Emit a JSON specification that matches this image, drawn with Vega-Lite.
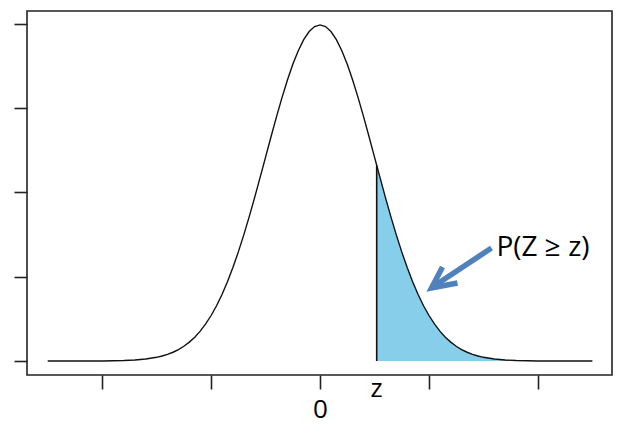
{
  "$schema": "https://vega.github.io/schema/vega-lite/v6.json",
  "width": 585,
  "height": 364,
  "autosize": {"type": "none"},
  "padding": {"left": 27, "top": 11, "right": 14, "bottom": 72},
  "background": "white",
  "config": {
    "view": {"stroke": "#222222", "strokeWidth": 1.6},
    "font": "Open Sans"
  },
  "datasets": {
    "curve": [
      {"x": -5.0, "d": 0.0}, {"x": -4.5, "d": 0.0}, {"x": -4.0, "d": 0.0001},
      {"x": -3.8, "d": 0.0003}, {"x": -3.6, "d": 0.0006}, {"x": -3.4, "d": 0.0012},
      {"x": -3.2, "d": 0.0024}, {"x": -3.0, "d": 0.0044}, {"x": -2.9, "d": 0.006},
      {"x": -2.8, "d": 0.0079}, {"x": -2.7, "d": 0.0104}, {"x": -2.6, "d": 0.0136},
      {"x": -2.5, "d": 0.0175}, {"x": -2.4, "d": 0.0224}, {"x": -2.3, "d": 0.0283},
      {"x": -2.2, "d": 0.0355}, {"x": -2.1, "d": 0.044}, {"x": -2.0, "d": 0.054},
      {"x": -1.9, "d": 0.0656}, {"x": -1.8, "d": 0.079}, {"x": -1.7, "d": 0.094},
      {"x": -1.6, "d": 0.1109}, {"x": -1.5, "d": 0.1295}, {"x": -1.4, "d": 0.1497},
      {"x": -1.3, "d": 0.1714}, {"x": -1.2, "d": 0.1942}, {"x": -1.1, "d": 0.2179},
      {"x": -1.0, "d": 0.242}, {"x": -0.9, "d": 0.2661}, {"x": -0.8, "d": 0.2897},
      {"x": -0.7, "d": 0.3123}, {"x": -0.6, "d": 0.3332}, {"x": -0.5, "d": 0.3521},
      {"x": -0.4, "d": 0.3683}, {"x": -0.3, "d": 0.3814}, {"x": -0.2, "d": 0.391},
      {"x": -0.1, "d": 0.397}, {"x": 0.0, "d": 0.3989}, {"x": 0.1, "d": 0.397},
      {"x": 0.2, "d": 0.391}, {"x": 0.3, "d": 0.3814}, {"x": 0.4, "d": 0.3683},
      {"x": 0.5, "d": 0.3521}, {"x": 0.6, "d": 0.3332}, {"x": 0.7, "d": 0.3123},
      {"x": 0.8, "d": 0.2897}, {"x": 0.9, "d": 0.2661}, {"x": 1.0, "d": 0.242},
      {"x": 1.04, "d": 0.2323}, {"x": 1.1, "d": 0.2179}, {"x": 1.2, "d": 0.1942},
      {"x": 1.3, "d": 0.1714}, {"x": 1.4, "d": 0.1497}, {"x": 1.5, "d": 0.1295},
      {"x": 1.6, "d": 0.1109}, {"x": 1.7, "d": 0.094}, {"x": 1.8, "d": 0.079},
      {"x": 1.9, "d": 0.0656}, {"x": 2.0, "d": 0.054}, {"x": 2.1, "d": 0.044},
      {"x": 2.2, "d": 0.0355}, {"x": 2.3, "d": 0.0283}, {"x": 2.4, "d": 0.0224},
      {"x": 2.5, "d": 0.0175}, {"x": 2.6, "d": 0.0136}, {"x": 2.7, "d": 0.0104},
      {"x": 2.8, "d": 0.0079}, {"x": 2.9, "d": 0.006}, {"x": 3.0, "d": 0.0044},
      {"x": 3.2, "d": 0.0024}, {"x": 3.4, "d": 0.0012}, {"x": 3.6, "d": 0.0006},
      {"x": 3.8, "d": 0.0003}, {"x": 4.0, "d": 0.0001}, {"x": 4.5, "d": 0.0},
      {"x": 5.0, "d": 0.0}
    ],
    "zline": [{"x": 1.04, "y0": 0, "y1": 0.2323}],
    "arrow": [
      {"part": "shaft", "seq": 1, "x": 3.147, "y": 0.1341},
      {"part": "shaft", "seq": 2, "x": 2.08, "y": 0.0885},
      {"part": "head", "seq": 1, "x": 2.248, "y": 0.1116},
      {"part": "head", "seq": 2, "x": 2.046, "y": 0.0866},
      {"part": "head", "seq": 3, "x": 2.523, "y": 0.0926}
    ],
    "plabel": [{"x": 3.239, "y": 0.1246, "label": "P(Z ≥ z)"}],
    "zlabel": [{"x": 1.04, "y": -0.0427, "label": "z"}]
  },
  "layer": [
    {
      "data": {"name": "curve"},
      "transform": [{"filter": "datum.x >= 1.04"}],
      "mark": {"type": "area", "color": "#87CEEB", "opacity": 1, "clip": true},
      "encoding": {
        "x": {"field": "x", "type": "quantitative",
          "scale": {"domain": [-5.38, 5.36], "nice": false, "zero": false},
          "axis": {
            "values": [-4, -2, 0, 2, 4],
            "labelExpr": "datum.value == 0 ? '0' : ''",
            "title": null, "grid": false, "domain": false,
            "tickSize": 14, "tickWidth": 1.6, "tickColor": "#222222",
            "labelFontSize": 26, "labelFont": "Open Sans", "labelColor": "#000000",
            "labelBaseline": "alphabetic", "labelPadding": 28, "labelFlush": false
          }
        },
        "y": {"field": "d", "type": "quantitative",
          "scale": {"domain": [-0.0166, 0.4154], "nice": false, "zero": false},
          "axis": {
            "values": [0, 0.1, 0.2, 0.3, 0.4],
            "labels": false, "title": null, "grid": false, "domain": false,
            "tickSize": 13, "tickWidth": 1.6, "tickColor": "#222222"
          }
        }
      }
    },
    {
      "data": {"name": "curve"},
      "mark": {"type": "line", "color": "#111111", "strokeWidth": 1.4},
      "encoding": {
        "x": {"field": "x", "type": "quantitative"},
        "y": {"field": "d", "type": "quantitative"}
      }
    },
    {
      "data": {"name": "zline"},
      "mark": {"type": "rule", "color": "#111111", "strokeWidth": 1.6},
      "encoding": {
        "x": {"field": "x", "type": "quantitative"},
        "y": {"field": "y0", "type": "quantitative"},
        "y2": {"field": "y1"}
      }
    },
    {
      "data": {"name": "arrow"},
      "mark": {"type": "line", "color": "#4F81BD", "strokeWidth": 5.5, "strokeJoin": "miter", "strokeCap": "butt"},
      "encoding": {
        "x": {"field": "x", "type": "quantitative"},
        "y": {"field": "y", "type": "quantitative"},
        "detail": {"field": "part"},
        "order": {"field": "seq", "type": "quantitative"}
      }
    },
    {
      "data": {"name": "plabel"},
      "mark": {"type": "text", "font": "Open Sans", "fontSize": 28, "color": "#000000", "baseline": "alphabetic", "align": "left"},
      "encoding": {
        "x": {"field": "x", "type": "quantitative"},
        "y": {"field": "y", "type": "quantitative"},
        "text": {"field": "label"}
      }
    },
    {
      "data": {"name": "zlabel"},
      "mark": {"type": "text", "font": "Open Sans", "fontSize": 26, "color": "#000000", "baseline": "alphabetic", "align": "center"},
      "encoding": {
        "x": {"field": "x", "type": "quantitative"},
        "y": {"field": "y", "type": "quantitative"},
        "text": {"field": "label"}
      }
    }
  ]
}
